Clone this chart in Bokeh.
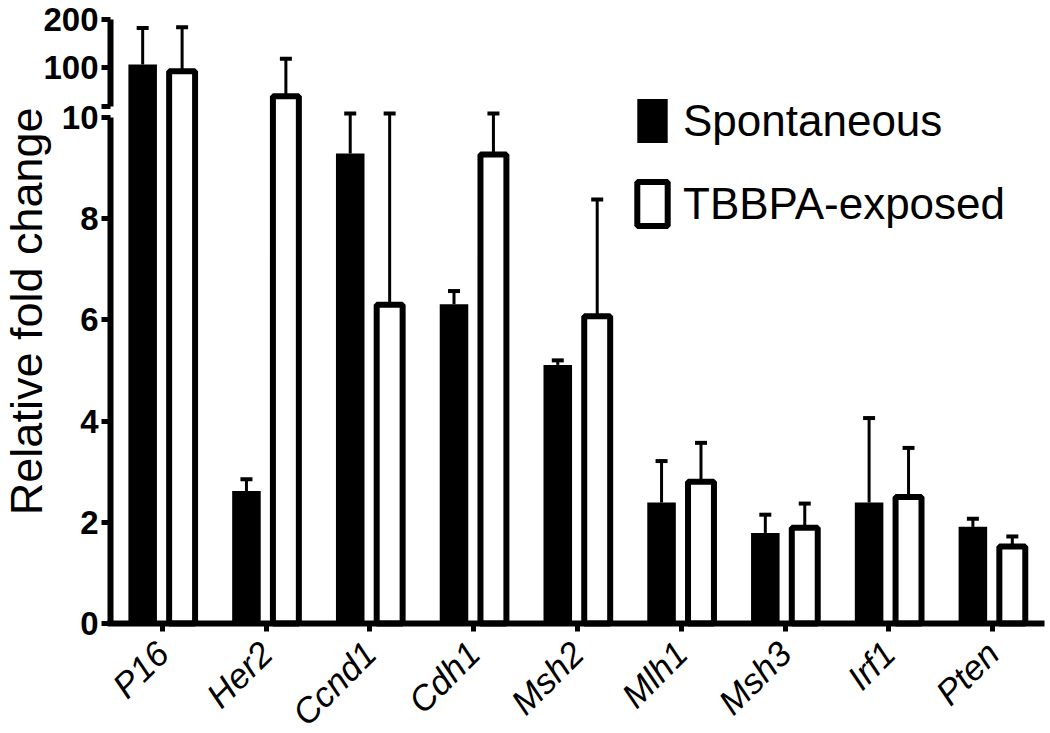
import math
import numpy as np
from bokeh.plotting import figure
from bokeh.models import (ColumnDataSource, Range1d, LinearAxis, FixedTicker,
                          CustomJSTickFormatter, Legend, LegendItem, Label)
from bokeh.transform import dodge
from bokeh.embed import file_html
from bokeh.resources import INLINE

# ---------------- data ----------------
genes = ["P16", "Her2", "Ccnd1", "Cdh1", "Msh2", "Mlh1", "Msh3", "Irf1", "Pten"]
spont_mean = [106, 2.62, 9.29, 6.31, 5.11, 2.39, 1.79, 2.39, 1.91]
spont_err = [76, 0.23, 0.79, 0.26, 0.09, 0.82, 0.36, 1.67, 0.16]
tbbpa_mean = [92, 40, 6.30, 9.27, 6.07, 2.80, 1.89, 2.50, 1.52]
tbbpa_err = [92, 78, 3.78, 0.81, 2.31, 0.77, 0.48, 0.97, 0.20]
series_names = ["Spontaneous", "TBBPA-exposed"]

lower_ticks = [0, 2, 4, 6, 8, 10]
upper_ticks = [100, 200]
break_value = 10

# ---------------- layout constants (ranges span the whole canvas) ----------------
W, H = 1050, 733
X_START, X_END = -1.06, 9.058            # y axes sit at x = 0
LOWER_START, LOWER_END = -2.174, 12.312  # x axis sits at y = 0
UPPER_START, UPPER_END = -1290.77, 239.67
UPPER_BASE = -1061.1                     # upper-scale value of the baseline
FONT = "Liberation Sans"

p = figure(x_range=Range1d(X_START, X_END), y_range=Range1d(LOWER_START, LOWER_END),
           width=W, height=H, min_border=0,
           x_axis_location=None, y_axis_location=None,
           output_backend="svg", toolbar_location=None)
p.extra_y_ranges = {"upper": Range1d(UPPER_START, UPPER_END)}

p.xgrid.visible = False
p.ygrid.visible = False
p.outline_line_color = None
p.background_fill_color = "white"
p.border_fill_color = "white"

positions = np.arange(len(genes)) + 0.5

series = [
    (spont_mean, spont_err, -0.19, "black", None, 1, 0.275),
    (tbbpa_mean, tbbpa_err, 0.19, "white", "black", 6, 0.25),
]

legend_renderers = []
for means, errs, offset, fill, line, lw, width in series:
    m = np.array(means, dtype=float)
    e = np.array(errs, dtype=float)
    hi = m >= break_value
    first = None
    for mask, rng, base in ((~hi, "default", 0), (hi, "upper", UPPER_BASE)):
        src = ColumnDataSource(dict(
            pos=positions[mask],
            mean=m[mask],
            top=m[mask] + e[mask],
        ))
        xpos = dodge("pos", offset)
        p.segment(x0=xpos, y0="mean", x1=xpos, y1="top", source=src,
                  line_color="black", line_width=3, y_range_name=rng)
        p.scatter(x=xpos, y="top", marker="dash", size=12, line_width=4,
                  line_color="black", source=src, y_range_name=rng)
        r = p.vbar(x=xpos, top="mean", bottom=base, width=width, source=src,
                   fill_color=fill, line_color=line, line_width=lw,
                   y_range_name=rng)
        if first is None:
            first = r
    legend_renderers.append(first)

# ---------------- axes (fixed inside the full-canvas frame) ----------------
def style_y(a):
    a.axis_line_width = 6
    a.axis_line_color = "black"
    a.major_tick_line_width = 5
    a.major_tick_out = 9
    a.major_tick_in = 0
    a.minor_tick_line_color = None
    a.major_label_text_font = FONT
    a.major_label_text_font_style = "bold"
    a.major_label_text_font_size = "33px"
    a.major_label_text_color = "black"
    a.major_label_standoff = 3

ya = LinearAxis(bounds=(0, break_value), ticker=FixedTicker(ticks=lower_ticks),
                fixed_location=0)
style_y(ya)
p.add_layout(ya, "left")

yu = LinearAxis(y_range_name="upper", bounds=(18, 200),
                ticker=FixedTicker(ticks=[18] + upper_ticks),
                formatter=CustomJSTickFormatter(code="return tick >= 100 ? tick.toFixed(0) : ''"),
                fixed_location=0)
style_y(yu)
p.add_layout(yu, "left")

xa = LinearAxis(bounds=(-0.03, 9.0), ticker=FixedTicker(ticks=list(positions)),
                formatter=CustomJSTickFormatter(args=dict(names=genes),
                                                code="return names[Math.floor(tick)]"),
                fixed_location=0)
xa.axis_line_width = 6
xa.axis_line_color = "black"
xa.major_tick_line_width = 5
xa.major_tick_out = 8
xa.major_tick_in = 0
xa.minor_tick_line_color = None
xa.major_label_orientation = math.pi / 4
xa.major_label_text_font = FONT
xa.major_label_text_font_style = "italic"
xa.major_label_text_font_size = "35px"
xa.major_label_text_color = "black"
xa.major_label_standoff = 16
p.add_layout(xa, "below")

ylab = Label(x=-0.8094, y=6.17, text="Relative fold change", angle=math.pi / 2,
             text_align="center", text_baseline="middle",
             text_font=FONT, text_font_size="45px", text_color="black")
p.add_layout(ylab)

legend = Legend(
    items=[LegendItem(label=series_names[0], renderers=[legend_renderers[0]]),
           LegendItem(label=series_names[1], renderers=[legend_renderers[1]])],
    location=(633, 502), glyph_width=38, glyph_height=55, label_height=48,
    label_standoff=12, spacing=28, padding=0, margin=0,
    label_text_font=FONT, label_text_font_size="44px", label_text_color="black",
    border_line_color=None, background_fill_alpha=0,
)
p.add_layout(legend)

open("out.html", "w").write(file_html(p, INLINE))
